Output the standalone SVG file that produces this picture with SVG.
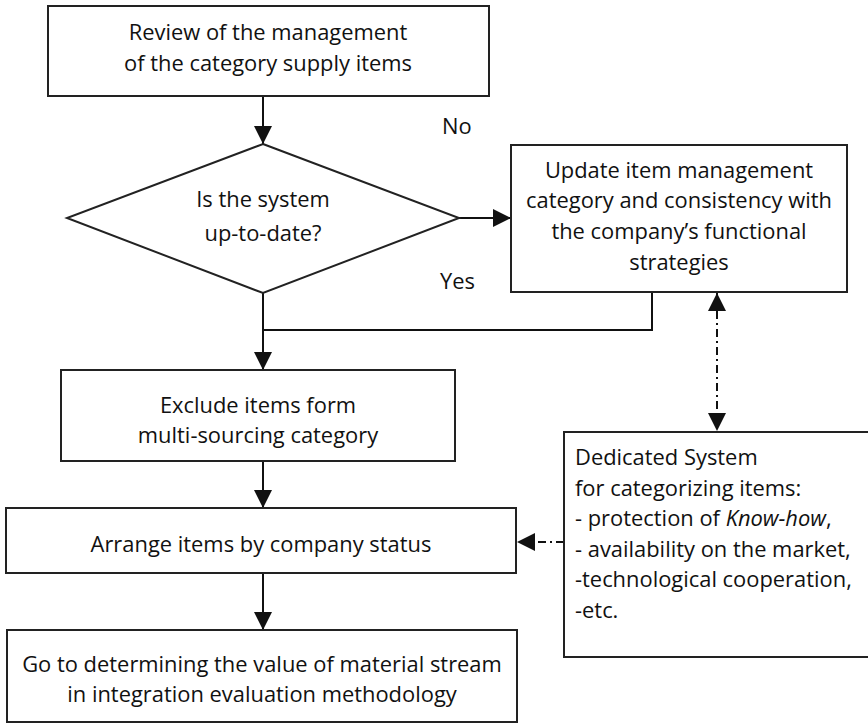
<svg xmlns="http://www.w3.org/2000/svg" width="868" height="724" viewBox="0 0 868 724">
  <style>
    .box { fill: #ffffff; stroke: #222222; stroke-width: 2; }
    .txt { font-family: "Open Sans", "Liberation Sans", sans-serif; font-size: 21.9px; fill: #111111; }
    .mid { text-anchor: middle; }
    .line { fill: none; stroke: #111111; stroke-width: 2; }
    .dashdot { fill: none; stroke: #111111; stroke-width: 2; stroke-dasharray: 8 4 2 4; }
  </style>
  <defs>
    <marker id="arrow" markerUnits="userSpaceOnUse" markerWidth="18" markerHeight="18" refX="18" refY="9" orient="auto-start-reverse" viewBox="0 0 18 18">
      <path d="M0,0 L18,9 L0,18 z" fill="#111111"/>
    </marker>
  </defs>

  <rect width="868" height="724" fill="#ffffff"/>

  <!-- connectors -->
  <g id="connectors">
    <line class="line" x1="263" y1="97" x2="263" y2="144" marker-end="url(#arrow)"/>
    <line class="line" x1="459" y1="218" x2="511" y2="218" marker-end="url(#arrow)"/>
    <polyline class="line" points="652,292 652,330 263,330"/>
    <line class="line" x1="263" y1="293" x2="263" y2="370" marker-end="url(#arrow)"/>
    <line class="line" x1="263" y1="461" x2="263" y2="508" marker-end="url(#arrow)"/>
    <line class="line" x1="263" y1="573" x2="263" y2="630" marker-end="url(#arrow)"/>
    <line class="dashdot" x1="717" y1="293" x2="717" y2="431" marker-start="url(#arrow)" marker-end="url(#arrow)"/>
    <line class="dashdot" x1="564" y1="542" x2="517" y2="542" marker-end="url(#arrow)"/>
    <text class="txt" x="442" y="134">No</text>
    <text class="txt" x="440" y="289">Yes</text>
  </g>

  <!-- start: review -->
  <g id="review">
    <rect class="box" x="48" y="6" width="441" height="90"/>
    <text class="txt mid" x="268" y="40">Review of the management</text>
    <text class="txt mid" x="268" y="71">of the category supply items</text>
  </g>

  <!-- decision -->
  <g id="decision">
    <polygon class="box" points="263,144 459,218 263,293 67,218"/>
    <text class="txt mid" x="263" y="207">Is the system</text>
    <text class="txt mid" x="263" y="241">up-to-date?</text>
  </g>

  <!-- update branch -->
  <g id="update">
    <rect class="box" x="511" y="145" width="336" height="147"/>
    <text class="txt mid" x="679" y="178">Update item management</text>
    <text class="txt mid" x="679" y="208">category and consistency with</text>
    <text class="txt mid" x="679" y="239">the company’s functional</text>
    <text class="txt mid" x="679" y="270">strategies</text>
  </g>

  <!-- exclude -->
  <g id="exclude">
    <rect class="box" x="61" y="370" width="394" height="91"/>
    <text class="txt mid" x="258" y="413">Exclude items form</text>
    <text class="txt mid" x="258" y="443">multi-sourcing category</text>
  </g>

  <!-- arrange -->
  <g id="arrange">
    <rect class="box" x="6" y="508" width="510" height="65"/>
    <text class="txt mid" x="261" y="552">Arrange items by company status</text>
  </g>

  <!-- final step -->
  <g id="final">
    <rect class="box" x="7" y="630" width="510" height="92"/>
    <text class="txt mid" x="262" y="672">Go to determining the value of material stream</text>
    <text class="txt mid" x="262" y="702">in integration evaluation methodology</text>
  </g>

  <!-- categorization system -->
  <g id="dedicated">
    <rect class="box" x="564" y="432" width="320" height="225"/>
    <text class="txt" x="575" y="465">Dedicated System</text>
    <text class="txt" x="575" y="496">for categorizing items:</text>
    <text class="txt" x="575" y="526">- protection of <tspan font-style="italic">Know-how</tspan>,</text>
    <text class="txt" x="575" y="557">- availability on the market,</text>
    <text class="txt" x="575" y="587">-technological cooperation,</text>
    <text class="txt" x="575" y="618">-etc.</text>
  </g>
</svg>
